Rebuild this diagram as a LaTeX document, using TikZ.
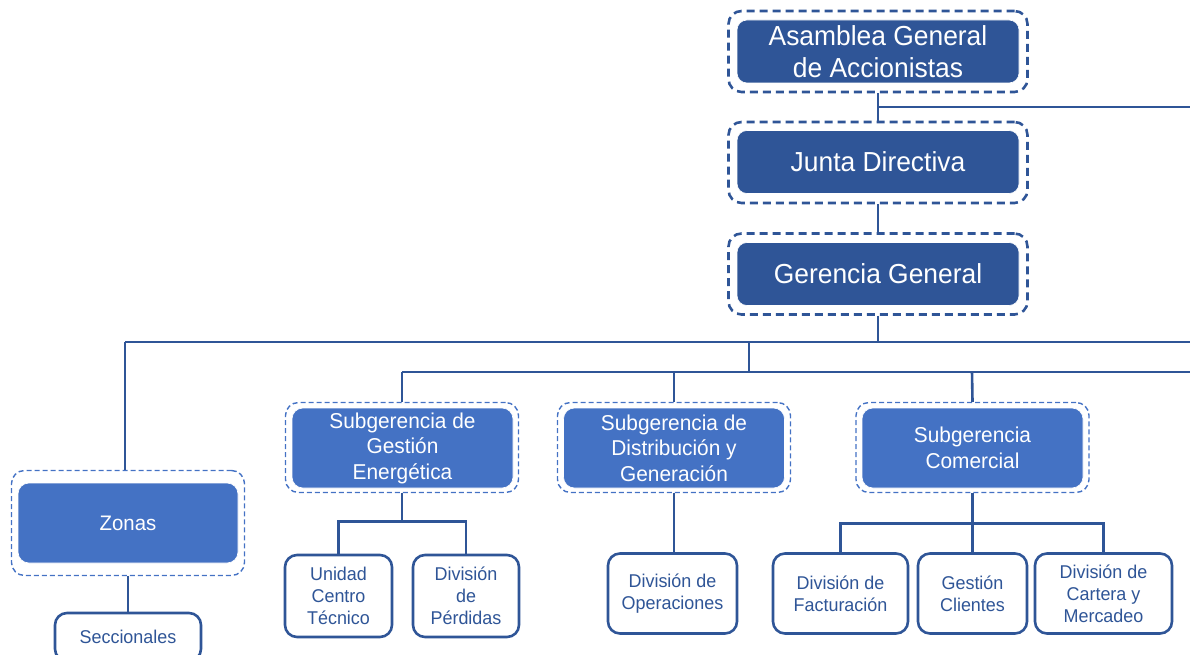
\documentclass[tikz,border=0pt]{standalone}
\usepackage{fontspec}
\setmainfont{Liberation Sans}
\newfontfamily\topfont[FakeStretch=0.96]{Liberation Sans}
\newfontfamily\subfont[FakeStretch=0.97]{Liberation Sans}
\newfontfamily\smallfont[FakeStretch=0.97]{Liberation Sans}
\definecolor{dkblue}{HTML}{2F5597}
\definecolor{mdblue}{HTML}{4472C4}
\begin{document}
\begin{tikzpicture}[x=1pt,y=-1pt,
  topbox/.style={fill=dkblue, draw=white, line width=0.6pt, rounded corners=10pt, text=white, align=center,
    font=\topfont\fontsize{27.5}{32}\selectfont, minimum width=282pt, minimum height=63pt, inner sep=0pt},
  topouter/.style={draw=dkblue, line width=2.6pt, dash pattern=on 8pt off 5pt, rounded corners=13pt,
    minimum width=299pt, minimum height=81pt, inner sep=0pt},
  subbox/.style={fill=mdblue, draw=white, line width=0.6pt, rounded corners=11pt, text=white, align=center,
    font=\subfont\fontsize{21.5}{25.5}\selectfont, minimum width=221pt, minimum height=80pt, inner sep=0pt},
  subouter/.style={draw=mdblue, line width=1.4pt, dash pattern=on 5pt off 3pt, rounded corners=13pt,
    minimum width=233pt, minimum height=90pt, inner sep=0pt},
  wbox/.style={fill=white, draw=dkblue, line width=2.6pt, rounded corners=12pt, text=dkblue, align=center,
    font=\smallfont\fontsize{18.5}{22}\selectfont, minimum height=80pt, inner sep=0pt},
  conn/.style={draw=dkblue, line width=2.6pt}
]
\path[use as bounding box, clip] (0,0) rectangle (1193,655);

% top chain
\node[topouter] (asamO) at (878,51.5) {};
\node[topbox] (asam) at (878,51.5) {Asamblea General\\de Accionistas};
\node[topouter] (junO) at (878,162.5) {};
\node[topbox] (jun) at (878,162) {Junta Directiva};
\node[topouter] (gerO) at (878,274) {};
\node[topbox] (ger) at (878,274) {Gerencia General};

% subgerencias
\node[subouter] (geO) at (402,447.5) {};
\node[subbox] (ge) at (402.5,448) {Subgerencia de\\Gestión\\Energética};
\node[subouter] (dgO) at (674,447.5) {};
\node[subbox] (dg) at (674,448) {Subgerencia de\\Distribución y\\Generación};
\node[subouter] (comO) at (972.5,447.5) {};
\node[subbox] (com) at (972.5,448) {Subgerencia\\Comercial};
\node[subouter, minimum height=105pt] (zonO) at (128,523) {};
\node[subbox, minimum width=220pt, font=\subfont\fontsize{21}{25.5}\selectfont] (zon) at (128,523) {Zonas};

% white boxes
\node[wbox, minimum width=107pt, minimum height=82pt] (uni) at (338.5,596) {Unidad\\Centro\\Técnico};
\node[wbox, minimum width=106pt, minimum height=82pt] (per) at (466,596) {División\\de\\Pérdidas};
\node[wbox, minimum width=129pt] (ope) at (672.5,593.5) {División de\\Operaciones};
\node[wbox, minimum width=135pt] (fac) at (840.5,593.5) {División de\\Facturación};
\node[wbox, minimum width=109pt] (ges) at (972.5,593.5) {Gestión\\Clientes};
\node[wbox, minimum width=137pt] (car) at (1103.5,593.5) {División de\\Cartera y\\Mercadeo};
\node[wbox, minimum width=146pt, minimum height=48pt] (sec) at (128,637) {Seccionales};

% connector coordinates
\coordinate (j1) at (878,107);
\coordinate (e1) at (1190,107);
\coordinate (j2) at (878,342);
\coordinate (zl) at (125,342);
\coordinate (e2) at (1190,342);
\coordinate (j3) at (749,342);
\coordinate (j4) at (749,372);
\coordinate (gl) at (402,372);
\coordinate (dl) at (674,372);
\coordinate (cl) at (972,372);
\coordinate (e3) at (1190,372);

% connectors
\draw[conn] (asamO.south) -- (junO.north);
\draw[conn] (j1) -- (e1);
\draw[conn] (junO.south) -- (gerO.north);
\draw[conn] (gerO.south) -- (j2);
\draw[conn] (zl) -- (e2);
\draw[conn] (zl) -- (zl |- zonO.north);
\draw[conn] (j3) -- (j4);
\draw[conn] (gl) -- (e3);
\draw[conn] (gl) -- (geO.north);
\draw[conn] (dl) -- (dgO.north);
\draw[conn] (cl) -- (comO.north);
\draw[conn] (geO.south) -- ++(0,30);
\draw[conn] (uni.north) -- ++(0,-32) -| (per.north);
\draw[conn] (dgO.south) -- (dgO.south |- ope.north);
\draw[conn] (comO.south) -- (comO.south |- ges.north);
\draw[conn] (fac.north) -- ++(0,-29) -| (car.north);
\draw[conn] (zonO.south) -- (sec.north);
\end{tikzpicture}
\end{document}
